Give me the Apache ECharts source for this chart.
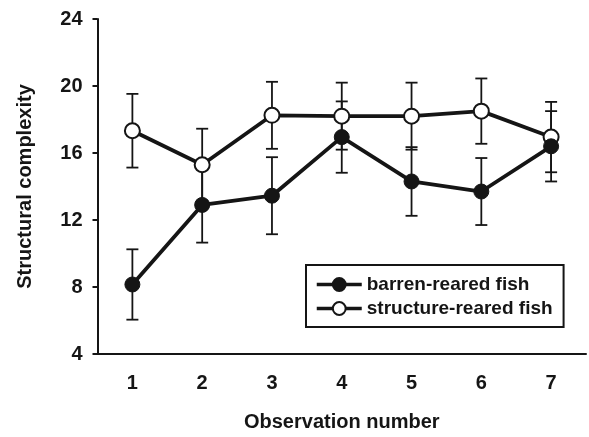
<!DOCTYPE html>
<html>
<head>
<meta charset="utf-8">
<script src="https://cdn.jsdelivr.net/npm/echarts@6/dist/echarts.min.js"></script>
<style>html,body{margin:0;padding:0;background:#fff;}#c{width:589px;height:437px;}</style>
</head>
<body>
<div id="c"></div>
<script>
var categories = ['1', '2', '3', '4', '5', '6', '7'];
var yTicks = [4, 8, 12, 16, 20, 24];
var barrenMean = [8.15, 12.9, 13.45, 16.95, 14.3, 13.7, 16.4];
var barrenErr = [2.1, 2.25, 2.3, 2.13, 2.05, 2.0, 2.1];
var structureMean = [17.33, 15.3, 18.25, 18.2, 18.2, 18.5, 16.95];
var structureErr = [2.2, 2.15, 2.0, 2.0, 2.0, 1.95, 2.1];

var FONT = 'Liberation Sans';
var INK = '#151515';

function errData(mean, err) {
  return mean.map(function (m, i) { return [i, m - err[i], m + err[i]]; });
}
function errRender(params, api) {
  var x = api.value(0);
  var lo = api.coord([x, api.value(1)]);
  var hi = api.coord([x, api.value(2)]);
  var hw = 6;
  var st = { stroke: INK, lineWidth: 1.8 };
  return {
    type: 'group',
    children: [
      { type: 'line', shape: { x1: lo[0], y1: lo[1], x2: hi[0], y2: hi[1] }, style: st },
      { type: 'line', shape: { x1: lo[0] - hw, y1: lo[1], x2: lo[0] + hw, y2: lo[1] }, style: st },
      { type: 'line', shape: { x1: hi[0] - hw, y1: hi[1], x2: hi[0] + hw, y2: hi[1] }, style: st }
    ]
  };
}

var chart = echarts.init(document.getElementById('c'), null, { renderer: 'canvas' });
chart.setOption({
  animation: false,
  backgroundColor: '#fff',
  grid: { left: 97.5, right: 3, top: 19, bottom: 76.5, containLabel: false },
  legend: {
    left: 306, top: 265, orient: 'vertical',
    data: ['barren-reared fish', 'structure-reared fish'],
    borderColor: INK, borderWidth: 2, borderRadius: 0,
    padding: [10, 11, 9, 9],
    itemWidth: 45, itemHeight: 16, itemGap: 5,
    lineStyle: { width: 3.5, color: INK },
    textStyle: { fontFamily: FONT, fontWeight: 'bold', fontSize: 19, color: INK }
  },
  xAxis: {
    type: 'category', data: categories, boundaryGap: true,
    name: 'Observation number', nameLocation: 'middle', nameGap: 58,
    nameTextStyle: { fontFamily: FONT, fontWeight: 'bold', fontSize: 20, color: INK },
    axisLine: { lineStyle: { color: INK, width: 2 } },
    axisTick: { alignWithLabel: true, length: 5, lineStyle: { color: INK, width: 2 } },
    axisLabel: { margin: 19, fontFamily: FONT, fontWeight: 'bold', fontSize: 20, color: INK },
    splitLine: { show: false }
  },
  yAxis: {
    type: 'value', min: yTicks[0], max: yTicks[yTicks.length - 1], interval: yTicks[1] - yTicks[0],
    name: 'Structural complexity', nameLocation: 'middle', nameGap: 62, nameRotate: 90,
    nameTextStyle: { fontFamily: FONT, fontWeight: 'bold', fontSize: 20, color: INK },
    axisLine: { show: true, lineStyle: { color: INK, width: 2 } },
    axisTick: { show: true, length: 5, lineStyle: { color: INK, width: 2 } },
    axisLabel: { margin: 15, fontFamily: FONT, fontWeight: 'bold', fontSize: 20, color: INK },
    splitLine: { show: false }
  },
  series: [
    { type: 'custom', name: 'structErr', renderItem: errRender, data: errData(structureMean, structureErr), z: 1, silent: true },
    { type: 'custom', name: 'barrenErr', renderItem: errRender, data: errData(barrenMean, barrenErr), z: 1, silent: true },
    {
      type: 'line', name: 'structure-reared fish', data: structureMean, z: 3,
      symbol: 'circle', symbolSize: 15, showAllSymbol: true,
      lineStyle: { color: INK, width: 3.8 },
      itemStyle: { color: '#fff', borderColor: INK, borderWidth: 2 }
    },
    {
      type: 'line', name: 'barren-reared fish', data: barrenMean, z: 4,
      symbol: 'circle', symbolSize: 15, showAllSymbol: true,
      lineStyle: { color: INK, width: 3.8 },
      itemStyle: { color: INK, borderColor: INK, borderWidth: 1 }
    }
  ]
});
</script>
</body>
</html>
